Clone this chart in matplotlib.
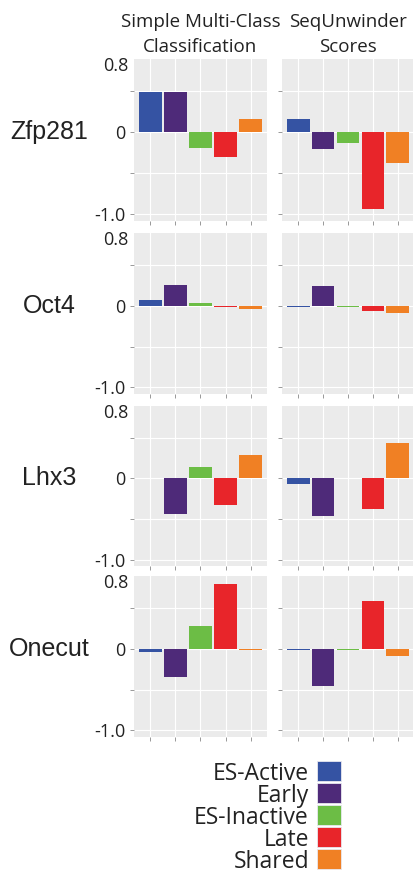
import matplotlib.pyplot as plt
from matplotlib.patches import Rectangle

categories = ['ES-Active', 'Early', 'ES-Inactive', 'Late', 'Shared']
colors = ['#3553A3', '#4E2A79', '#6CBD45', '#E8252A', '#F08024']
factors = ['Zfp281', 'Oct4', 'Lhx3', 'Onecut']
method_lines = [['Simple Multi-Class', 'Classification'], ['SeqUnwinder', 'Scores']]

multiclass = {
    'Zfp281': [0.49, 0.485, -0.19, -0.30, 0.165],
    'Oct4':   [0.07, 0.25, 0.03, -0.014, -0.045],
    'Lhx3':   [0.0, -0.44, 0.135, -0.33, 0.29],
    'Onecut': [-0.035, -0.35, 0.275, 0.79, -0.015],
}
sequnwinder = {
    'Zfp281': [0.165, -0.21, -0.13, -0.93, -0.37],
    'Oct4':   [-0.02, 0.245, -0.012, -0.06, -0.085],
    'Lhx3':   [-0.065, -0.46, 0.0, -0.38, 0.43],
    'Onecut': [-0.012, -0.45, -0.012, 0.59, -0.085],
}

W, H = 414, 874
fig = plt.figure(figsize=(W / 100, H / 100), dpi=100)

row_tops = [59, 233, 406, 576]
row_bots = [221, 394, 566, 737]
col_lefts = [134, 282]
col_widths = [133, 132]
font = 'Open Sans'
ink = '#222222'

for r, tf in enumerate(factors):
    for c, data in enumerate([multiclass, sequnwinder]):
        ax = fig.add_axes([col_lefts[c] / W, 1 - row_bots[r] / H,
                           col_widths[c] / W, (row_bots[r] - row_tops[r]) / H])
        ax.set_facecolor('#EBEBEB')
        x = range(len(categories))
        ax.bar(x, data[tf], width=0.91, color=colors, linewidth=0, zorder=3)
        ax.set_xlim(-0.65, 4.65)
        ax.set_ylim(-1.08, 0.89)
        ax.set_xticks(list(x))
        ax.set_xticklabels([])
        ax.set_yticks([-1.0, -0.5, 0, 0.5])
        ax.grid(True, color='white', linewidth=0.8, zorder=0)
        ax.tick_params(length=3, color='#888888', width=0.6)
        for s in ax.spines.values():
            s.set_visible(False)
        if c == 0:
            ax.set_yticklabels(['-1.0', '', '0', ''], fontsize=13,
                               family=font, color=ink)
            ax.tick_params(axis='y', pad=3)
            ax.text(-0.045, 0.8, '0.8', transform=ax.get_yaxis_transform(),
                    ha='right', va='center', fontsize=13, family=font, color=ink)
            # row label at the zero line
            y0 = ax.transData.transform((0, 0))[1]
            fig.text(49 / W, y0 / H, tf, ha='center', va='center',
                     fontsize=18, family='Liberation Sans', color=ink)
        else:
            ax.set_yticklabels([])

# column titles
for c, lines in enumerate(method_lines):
    xc = (col_lefts[c] + col_widths[c] / 2) / W
    for line, base in zip(lines, [27, 52]):
        fig.text(xc, 1 - base / H, line, ha='center', va='baseline',
                 fontsize=13.5, family=font, color=ink)

# legend, labels right aligned next to colour squares
sq_l, sq_w, sq_h = 317, 24, 20.5
for i, (cat, col) in enumerate(zip(categories, colors)):
    yc = 771 + 22 * i
    fig.patches.append(Rectangle((sq_l / W, 1 - (yc + sq_h / 2) / H),
                                 sq_w / W, sq_h / H, transform=fig.transFigure,
                                 facecolor=col, edgecolor='#E8E8F0', linewidth=0.6))
    fig.text(309 / W, 1 - yc / H, cat, ha='right', va='center_baseline',
             fontsize=16.5, family=font, color=ink)

fig.savefig('out.png', dpi=100)
